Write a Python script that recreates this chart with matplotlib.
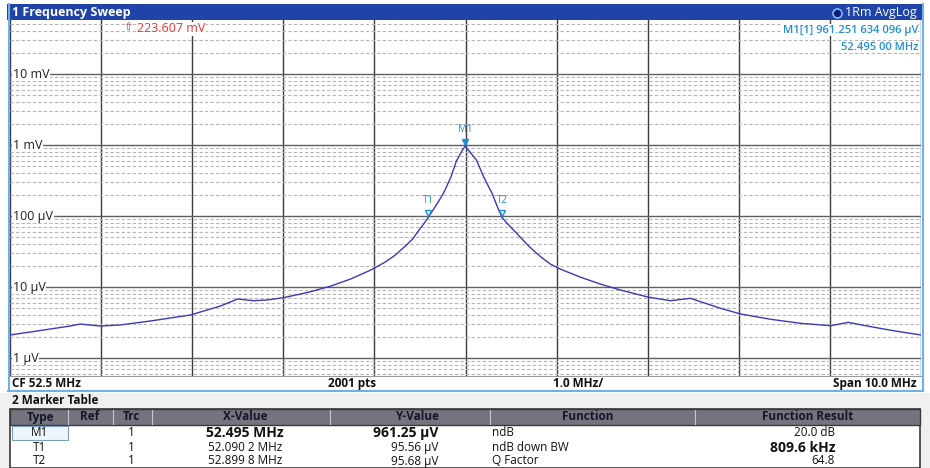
import numpy as np
import matplotlib
matplotlib.use("Agg")
import matplotlib.pyplot as plt
from matplotlib.patches import Rectangle
from matplotlib.lines import Line2D
from matplotlib.ticker import LogLocator, NullFormatter, MultipleLocator
from matplotlib.transforms import offset_copy

plt.rcParams['font.family'] = ['Open Sans', 'DejaVu Sans']

# ---------------- data ----------------
freq_mhz = [47.50, 47.72, 47.94, 48.16, 48.27, 48.49, 48.71, 49.04, 49.26, 49.48,
            49.70, 49.81, 50.00, 50.17, 50.32, 50.50, 50.69, 50.80, 51.02, 51.24,
            51.46, 51.62, 51.73, 51.84, 51.92, 51.98, 52.05, 52.09, 52.19, 52.26,
            52.34, 52.40, 52.46, 52.495, 52.54, 52.62, 52.70, 52.79, 52.85, 52.90,
            52.96, 53.03, 53.10, 53.21, 53.32, 53.43, 53.54, 53.76, 53.98, 54.20,
            54.50, 54.75, 54.97, 55.08, 55.30, 55.52, 55.85, 56.18, 56.51, 56.70,
            56.95, 57.20, 57.50]
level_uv = [2.11, 2.32, 2.56, 2.82, 3.01, 2.82, 2.92, 3.32, 3.66, 4.03,
            4.90, 5.40, 6.78, 6.41, 6.56, 7.07, 7.97, 8.59, 10.3, 12.97,
            17.35, 22.5, 28.2, 37.8, 47.4, 61.0, 80.0, 95.56, 150.0, 211.0,
            354.0, 595.0, 823.0, 961.25, 823.0, 615.0, 354.0, 211.0, 135.0, 95.68,
            78.0, 63.0, 50.5, 36.0, 27.0, 21.1, 17.9, 13.8, 11.0, 9.08,
            7.23, 6.41, 6.93, 6.21, 5.01, 4.17, 3.51, 3.08, 2.85, 3.18,
            2.76, 2.42, 2.11]

marker_names = ["M1", "T1", "T2"]
marker_freq = [52.495, 52.0902, 52.8998]
marker_uv = [961.25, 95.56, 95.68]

ytick_vals = [1e-2, 1e-3, 1e-4, 1e-5, 1e-6]
ytick_labels = ["10 mV", "1 mV", "100 µV", "10 µV", "1 µV"]

tbl_headers = ["Type", "Ref", "Trc", "X-Value", "Y-Value", "Function", "Function Result"]
tbl_type = ["M1", "T1", "T2"]
tbl_trc = ["1", "1", "1"]
tbl_x = ["52.495 MHz", "52.090 2 MHz", "52.899 8 MHz"]
tbl_y = ["961.25 µV", "95.56 µV", "95.68 µV"]
tbl_func = ["ndB", "ndB down BW", "Q Factor"]
tbl_res = ["20.0 dB", "809.6 kHz", "64.8"]

# ---------------- figure ----------------
W, H = 930, 468
fig = plt.figure(figsize=(W / 100, H / 100), dpi=100)
fig.patch.set_facecolor('white')

def fx(px):
    return px / W

def fy(py):
    return 1 - py / H

def rect(x0, y0, x1, y1, **kw):
    fig.add_artist(Rectangle((fx(x0), fy(y1)), fx(x1) - fx(x0), fy(y0) - fy(y1),
                             transform=fig.transFigure, **kw))

def hline(x0, x1, y, **kw):
    fig.add_artist(Line2D([fx(x0), fx(x1)], [fy(y), fy(y)], transform=fig.transFigure, **kw))

def vline(x, y0, y1, **kw):
    fig.add_artist(Line2D([fx(x), fx(x)], [fy(y0), fy(y1)], transform=fig.transFigure, **kw))

def ftext(x, y, s, **kw):
    fig.text(fx(x), fy(y), s, **kw)

BLUE_BAR = '#1f43a6'
FRAME = '#6fb1e6'
CYAN = '#1f8fd6'

# title bar
rect(7, 4, 924, 20, facecolor=BLUE_BAR, edgecolor='none', zorder=1)
ftext(12, 12.5, "1 Frequency Sweep", color='white', fontsize=9, fontweight='bold', va='center')
fig.add_artist(Line2D([fx(837)], [fy(12.5)], marker='o', markersize=6.5,
                      markerfacecolor='#0e1e6e', markeredgecolor='#7fb8ff',
                      markeredgewidth=1.2, transform=fig.transFigure))
ftext(845, 12.5, "1Rm AvgLog", color='white', fontsize=9, va='center')

# main axes
x0p, x1p, y0p, y1p = 10, 921, 20, 376
ax = fig.add_axes([fx(x0p), fy(y1p), fx(x1p) - fx(x0p), fy(y0p) - fy(y1p)])
ax.set_yscale('log')
ax.set_xlim(47.5, 57.5)
ax.set_ylim(10 ** -6.2535, 10 ** -1.239)
ax.xaxis.set_major_locator(MultipleLocator(1.0, offset=0.5))
ax.yaxis.set_major_locator(LogLocator(base=10, numticks=20))
ax.yaxis.set_minor_locator(LogLocator(base=10, subs=np.arange(2, 10), numticks=50))
ax.yaxis.set_minor_formatter(NullFormatter())
ax.tick_params(which='both', length=0, labelleft=False, labelbottom=False)
ax.grid(which='minor', axis='y', color='#b4b4b4', linestyle=(0, (3, 2)), linewidth=0.8)
ax.grid(which='major', axis='y', color='#606060', linestyle='-', linewidth=1.0)
ax.grid(which='major', axis='x', color='#3c3c3c', linestyle='-', linewidth=1.0)
ax.set_axisbelow(True)
for side in ['top', 'bottom', 'left', 'right']:
    ax.spines[side].set_visible(False)

freq = np.array(freq_mhz)
volts = np.array(level_uv) * 1e-6
ax.plot(freq, volts, color='#3a3ab8', linewidth=1.0, zorder=3)

# y labels inside the plot
for v, lab in zip(ytick_vals, ytick_labels):
    ax.text(0.003, v, lab, transform=ax.get_yaxis_transform(), fontsize=9,
            va='center', ha='left', color='#202020', zorder=4,
            bbox=dict(facecolor='white', edgecolor='none', pad=0.6))

# markers
tri = offset_copy(ax.transData, fig=fig, y=3, units='points')
lab_t = offset_copy(ax.transData, fig=fig, y=8, units='points')
for name, f, u in zip(marker_names, marker_freq, marker_uv):
    filled = name.startswith('M')
    ax.plot([f], [u * 1e-6], marker='v', markersize=5, linestyle='none',
            markerfacecolor=CYAN if filled else 'white', markeredgecolor=CYAN,
            markeredgewidth=1.0, transform=tri, zorder=5, clip_on=False)
    ax.text(f, u * 1e-6, name, transform=lab_t, color=CYAN, fontsize=7,
            ha='center', va='bottom', zorder=5)

# reference level annotation
ftext(128, 28, "⇧", color='#e8322f', fontsize=8, ha='center', va='center')
ftext(137, 29, "223.607 mV", color='#e8322f', fontsize=9, va='center',
      bbox=dict(facecolor='white', edgecolor='none', pad=0.3))
# marker info
ftext(918, 30, "M1[1] 961.251 634 096 µV", color=CYAN, fontsize=8, ha='right', va='center',
      fontweight='semibold', bbox=dict(facecolor='white', edgecolor='none', pad=0.3))
ftext(918, 47, "52.495 00 MHz", color=CYAN, fontsize=8, ha='right', va='center',
      fontweight='semibold', bbox=dict(facecolor='white', edgecolor='none', pad=0.3))

# frame lines
vline(9, 4, 391, color=FRAME, linewidth=1.5)
vline(922.5, 4, 391, color=FRAME, linewidth=1.5)
hline(8, 923, 391, color=FRAME, linewidth=1.5)
hline(10, 921, 376, color='#9a9a9a', linewidth=0.8)

# info bar
ftext(12, 383.5, "CF 52.5 MHz", fontsize=8.5, fontweight='bold', va='center', color='#111111')
ftext(352, 383.5, "2001 pts", fontsize=8.5, fontweight='bold', va='center', ha='center', color='#111111')
ftext(578, 383.5, "1.0 MHz/", fontsize=8.5, fontweight='bold', va='center', ha='center', color='#111111')
ftext(917, 383.5, "Span 10.0 MHz", fontsize=8.5, fontweight='bold', va='center', ha='right', color='#111111')

# marker table panel
rect(0, 393, 930, 468, facecolor='#f0f0f0', edgecolor='none')
ftext(12, 401, "2 Marker Table", fontsize=8.5, fontweight='bold', va='center', color='#111111')
rect(10, 409, 920, 468, facecolor='white', edgecolor='#3a3a3a', linewidth=1.2)
rect(10, 409, 920, 425, facecolor='#74747f', edgecolor='#3a3a3a', linewidth=1.0)
for sx in [68, 113, 152, 330, 490, 695]:
    vline(sx, 410, 424, color='#c8c8cc', linewidth=0.8)
hdr_x = [40, 90, 131, 245, 417, 588, 808]
for hx, h in zip(hdr_x, tbl_headers):
    ftext(hx, 417, h, fontsize=8.5, fontweight='bold', ha='center', va='center', color='#15152a')

rect(12, 426, 68, 440, facecolor='#eef5fc', edgecolor='#7a9cc0', linewidth=0.8)
row_y = [433, 447.5, 461]
for i, ry in enumerate(row_y):
    big = (i == 0)
    ftext(40, ry, tbl_type[i], fontsize=8.5, ha='center', va='center', color='#111111')
    ftext(131, ry, tbl_trc[i], fontsize=8.5, ha='center', va='center', color='#111111')
    ftext(245, ry, tbl_x[i], fontsize=10 if big else 8.5, fontweight='bold' if big else 'normal',
          ha='center', va='center', color='#111111')
    ftext(438, ry, tbl_y[i], fontsize=10 if big else 8.5, fontweight='bold' if big else 'normal',
          ha='right', va='center', color='#111111')
    ftext(492, ry, tbl_func[i], fontsize=8.5, ha='left', va='center', color='#111111')
    mid = (i == 1)
    ftext(835, ry, tbl_res[i], fontsize=10 if mid else 8.5, fontweight='bold' if mid else 'normal',
          ha='right', va='center', color='#111111')

fig.savefig('out.png', dpi=100)
